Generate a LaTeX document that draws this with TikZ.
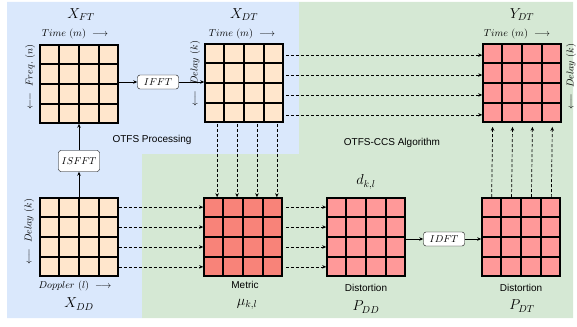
\documentclass[tikz,border=0pt]{standalone}
\usepackage{fontspec}
\newfontfamily\helv{Liberation Sans}
\usepackage{xcolor}
\usepackage{amsmath}
\usepackage{tikz}
\usetikzlibrary{positioning,calc,arrows.meta}

\definecolor{bgblue}{HTML}{DAE8FC}
\definecolor{bggreen}{HTML}{D5E8D4}
\definecolor{peach}{HTML}{FFE6CC}
\definecolor{metricred}{HTML}{F88379}
\definecolor{distpink}{HTML}{FF9999}

\begin{document}
\begin{tikzpicture}[x=1pt,y=-1pt,
		grid/.style={draw,line width=1.6pt,minimum size=78pt,inner sep=0pt},
		gridline/.style={line width=1.4pt},
		opbox/.style={draw,fill=white,rounded corners=2.5pt,inner sep=1pt,minimum width=41pt,minimum height=14pt},
		axis/.style={inner sep=1pt},
		title/.style={font=\Large},
		caption/.style={font=\helv},
		solidarrow/.style={line width=0.7pt,-{Stealth[length=4pt,width=3.5pt]}},
		dasharrow/.style={line width=0.7pt,densely dashed,-{Stealth[length=4pt,width=3.5pt]}},
		]
	\useasboundingbox (0,0) rectangle (577,326);
	% background regions
	\fill[bgblue] (7,2) -- (299,2) -- (299,154) -- (142,154) -- (142,318) -- (7,318) -- cycle;
	\fill[bggreen] (299,2) -- (573,2) -- (573,318) -- (142,318) -- (142,154) -- (299,154) -- cycle;
	\node (otfs) [caption] at (152,140) {OTFS Processing};
	\node (ccs) [caption] at (392,143) {OTFS-CCS Algorithm};

	% matrices
	\node (xft) [grid,fill=peach] at (79,84) {};
	\node (xdt) [grid,fill=peach] at (244,83) {};
	\node (ydt) [grid,fill=distpink] at (522,83) {};
	\node (xdd) [grid,fill=peach] at (79,237) {};
	\node (met) [grid,fill=metricred] at (243,237) {};
	\node (pdd) [grid,fill=distpink] at (366,237) {};
	\node (pdt) [grid,fill=distpink] at (521,237) {};
	\foreach \m in {xft,xdt,ydt,xdd,met,pdd,pdt}{
		\foreach \f in {0.25,0.5,0.75}{
			\draw[gridline] ($(\m.north west)!\f!(\m.north east)$) -- ($(\m.south west)!\f!(\m.south east)$);
			\draw[gridline] ($(\m.north west)!\f!(\m.south west)$) -- ($(\m.north east)!\f!(\m.south east)$);
		}
	}

	% titles and axes
	\node (xftname) [title] at (81,15) {$X_{FT}$};
	\node (xdtname) [title] at (244,15) {$X_{DT}$};
	\node (ydtname) [title] at (522,15) {$Y_{DT}$};
	\node (xftt) [axis] at (75,34) {$Time\ (m)\ \longrightarrow$};
	\node (xdtt) [axis] at (242,34) {$Time\ (m)\ \longrightarrow$};
	\node (ydtt) [axis] at (517,34) {$Time\ (m)\ \longrightarrow$};
	\node (xftf) [axis,rotate=90] at (30,77) {$\longleftarrow\ Freq.\ (n)$};
	\node (xdtd) [axis,rotate=90] at (195,74) {$\longleftarrow\ Delay\ (k)$};
	\node (ydtd) [axis,rotate=90] at (571,77) {$\longleftarrow\ Delay\ (k)$};
	\node (xddd) [axis,rotate=90] at (29,232) {$\longleftarrow\ Delay\ (k)$};
	\node (xddl) [axis] at (75,286) {$Doppler\ (l)\ \longrightarrow$};
	\node (xddname) [title] at (79,304) {$X_{DD}$};
	\node (metcap) [caption] at (245,285) {Metric};
	\node (metname) [title] at (247,304) {$\mu_{k,l}$};
	\node (pddtop) [title] at (366,182) {$d_{k,l}$};
	\node (pddcap) [caption] at (366,288) {Distortion};
	\node (pddname) [title] at (366,307) {$P_{DD}$};
	\node (pdtcap) [caption] at (521,288) {Distortion};
	\node (pdtname) [title] at (522,306) {$P_{DT}$};

	% transforms
	\node (ifft) [opbox] at (158,82) {$IFFT$};
	\node (isfft) [opbox,minimum height=21pt] at (79,161) {$ISFFT$};
	\node (idft) [opbox] at (444,239) {$IDFT$};

	\draw[solidarrow] (xft.east |- ifft) -- (ifft);
	\draw[solidarrow] (ifft) -- (xdt.west |- ifft);
	\draw[solidarrow] (xdd) -- (isfft);
	\draw[solidarrow] (isfft) -- (xft);
	\draw[solidarrow] (pdd.east |- idft) -- (idft);
	\draw[solidarrow] (idft) -- (pdt.west |- idft);

	% element-wise links
	\foreach \f in {0.125,0.375,0.625,0.875}{
		\draw[dasharrow] ($(xdd.north east)!\f!(xdd.south east)$) -- ($(met.north west)!\f!(met.south west)$);
		\draw[dasharrow,shorten <=2pt] ($(xdt.north east)!\f!(xdt.south east)+(0,2)$) -- ($(ydt.north west)!\f!(ydt.south west)+(0,2)$);
		\draw[dasharrow,shorten <=3pt] ($(met.north east)!\f!(met.south east)$) -- ($(pdd.north west)!\f!(pdd.south west)$);
		\draw[dasharrow,shorten <=1pt] ($(xdt.south west)!\f!(xdt.south east)+(3,0)$) -- ($(met.north west)!\f!(met.north east)+(4,0)$);
		\draw[dasharrow,shorten >=4pt] ($(pdt.north west)!\f!(pdt.north east)+(0.5,0)$) -- ($(ydt.south west)!\f!(ydt.south east)+(0.5,0)$);
	}
\end{tikzpicture}
\end{document}
